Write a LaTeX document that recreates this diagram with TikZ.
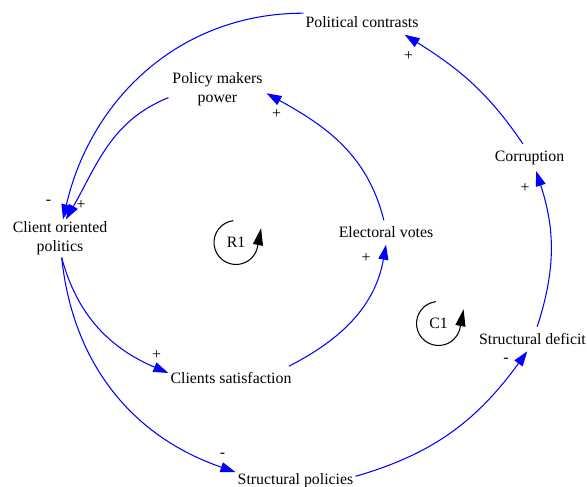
\documentclass[tikz,border=0pt]{standalone}
\usepackage{fontspec}
\setmainfont{Liberation Serif}
\usetikzlibrary{arrows.meta}
\begin{document}
\begin{tikzpicture}[line width=0.6pt,
var node/.style={align=center,inner xsep=1pt,inner ysep=3.5pt},
var2 node/.style={align=center,inner xsep=2pt,inner ysep=1pt},
sign node/.style={inner sep=0pt},
link/.style={draw=blue,-{Triangle[length=0.3cm,width=0.2cm]}},
loop link/.style={draw=black,-{Triangle[length=0.34cm,width=0.2cm]}}]
\useasboundingbox (0,0) rectangle (11.74,9.74);
\begin{scope}[every node/.style={font=\fontsize{9}{11}\selectfont}]
\node[var node] (pc) at (7.24,9.29) {Political contrasts};
\node[var2 node] (pmp) at (4.35,7.96) {Policy makers\\power};
\node[var2 node] (cop) at (1.20,4.97) {Client oriented\\politics};
\node[var node] (ev) at (7.72,5.09) {Electoral votes};
\node[var node] (cor) at (10.59,6.59) {Corruption};
\node[var node] (sd) at (10.65,2.96) {Structural deficit};
\node[var node] (cs) at (4.62,2.17) {Clients satisfaction};
\node[var node] (sp) at (5.91,0.13) {Structural policies};
\node (r1) at (4.72,4.89) {R1};
\node (c1) at (8.77,3.27) {C1};
% polarities
\node[sign node] (s1) at (0.97,5.69) {-};
\node[sign node] (s2) at (1.62,5.64) {+};
\node[sign node] (s3) at (3.13,2.64) {+};
\node[sign node] (s4) at (4.45,0.64) {-};
\node[sign node] (s5) at (10.12,2.53) {-};
\node[sign node] (s6) at (10.50,5.97) {+};
\node[sign node] (s7) at (8.17,8.62) {+};
\node[sign node] (s8) at (7.32,4.57) {+};
\node[sign node] (s9) at (5.53,7.45) {+};
\end{scope}
\draw (pc.171) edge[link,out=180,in=77] (cop.81);
\draw (pmp.190) edge[link,out=202,in=60] (cop.73);
\draw (cop.-85) edge[link,out=-75,in=157] (cs.175);
\draw (cop.-85) edge[link,out=-84,in=161] (sp.172);
\draw (sp.4) edge[link,out=16,in=234] (sd.247);
\draw (sd.69) edge[link,out=72,in=-72] (cor.-64);
\draw (cor.116) edge[link,out=124,in=-32] (pc.-16);
\draw (cs.12) edge[link,out=27,in=-100] (ev.south);
\draw (ev.100) edge[link,out=104,in=-29] (pmp.-5);
% loop signs
\draw [loop link] ([shift={(97:0.44)}]r1.center) arc[start angle=97,end angle=349,radius=0.44] -- ++(0.07,0.37);
\draw [loop link] ([shift={(97:0.44)}]c1.center) arc[start angle=97,end angle=349,radius=0.44] -- ++(0.07,0.37);
\end{tikzpicture}
\end{document}
